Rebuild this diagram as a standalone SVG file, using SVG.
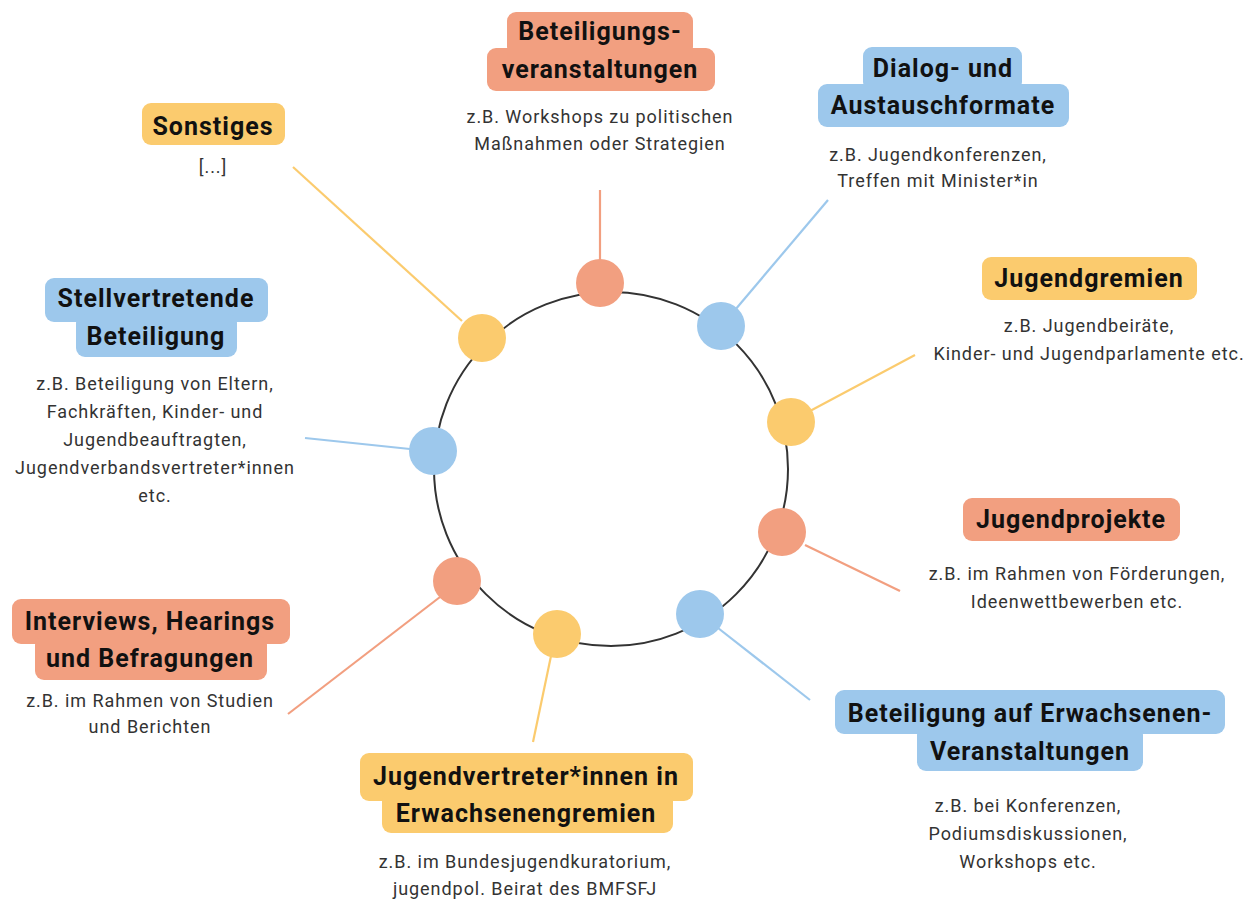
<svg xmlns="http://www.w3.org/2000/svg" width="1256" height="899" viewBox="0 0 1256 899">
<style>
.o{fill:#F29F80}.b{fill:#9DC8EC}.y{fill:#FBCB6E}
.lo{stroke:#F29F80}.lb{stroke:#9DC8EC}.ly{stroke:#FBCB6E}
.c line{stroke-width:2.2}
.t{font-family:Roboto,"Liberation Sans",sans-serif;font-weight:bold;font-size:25px;letter-spacing:1px;fill:#111;text-anchor:middle}
.s{font-family:Roboto,"Liberation Sans",sans-serif;font-size:18px;letter-spacing:0.95px;fill:#333;text-anchor:middle}
</style>
<rect width="1256" height="899" fill="#fff"/>
<circle cx="611" cy="469" r="177" fill="none" stroke="#333" stroke-width="2"/>
<g class="c" id="connectors">
<line class="lo" x1="600" y1="190" x2="600" y2="262"/>
<line class="lb" x1="828" y1="200" x2="735" y2="310"/>
<line class="ly" x1="915" y1="355" x2="810" y2="411"/>
<line class="lo" x1="805" y1="545" x2="900" y2="591"/>
<line class="lb" x1="718" y1="628" x2="810" y2="700"/>
<line class="ly" x1="551" y1="656" x2="533" y2="742"/>
<line class="lo" x1="440" y1="597" x2="288" y2="714"/>
<line class="lb" x1="305" y1="438" x2="410" y2="449"/>
<line class="ly" x1="293" y1="167" x2="462" y2="321"/>
</g>
<g id="dots">
<circle class="o" cx="600" cy="283" r="24"/>
<circle class="b" cx="721" cy="326" r="24"/>
<circle class="y" cx="791" cy="422" r="24"/>
<circle class="o" cx="782" cy="532" r="24"/>
<circle class="b" cx="700" cy="614" r="24"/>
<circle class="y" cx="557" cy="634" r="24"/>
<circle class="o" cx="457" cy="581" r="24"/>
<circle class="b" cx="433" cy="451" r="24"/>
<circle class="y" cx="482" cy="338" r="24"/>
</g>
<g id="n1">
<rect class="o" x="507" y="12" width="186" height="44" rx="9"/>
<rect class="o" x="487" y="48" width="228" height="43" rx="9"/>
<text class="t" x="600" y="40">Beteiligungs-</text>
<text class="t" x="600" y="78">veranstaltungen</text>
<text class="s" x="600" y="123">z.B. Workshops zu politischen</text>
<text class="s" x="600" y="150">Maßnahmen oder Strategien</text>
</g>
<g id="n2">
<rect class="b" x="863" y="47" width="159" height="44" rx="9"/>
<rect class="b" x="818" y="84" width="251" height="43" rx="9"/>
<text class="t" x="943" y="77">Dialog- und</text>
<text class="t" x="943" y="114">Austauschformate</text>
<text class="s" x="938" y="161">z.B. Jugendkonferenzen,</text>
<text class="s" x="938" y="187">Treffen mit Minister*in</text>
</g>
<g id="n3">
<rect class="y" x="982" y="257" width="215" height="43" rx="9"/>
<text class="t" x="1089" y="287">Jugendgremien</text>
<text class="s" x="1089" y="332">z.B. Jugendbeiräte,</text>
<text class="s" x="1089" y="360">Kinder- und Jugendparlamente etc.</text>
</g>
<g id="n4">
<rect class="o" x="963" y="498" width="217" height="43" rx="9"/>
<text class="t" x="1071" y="528">Jugendprojekte</text>
<text class="s" x="1077" y="580">z.B. im Rahmen von Förderungen,</text>
<text class="s" x="1077" y="608">Ideenwettbewerben etc.</text>
</g>
<g id="n5">
<rect class="b" x="835" y="690" width="390" height="44" rx="9"/>
<rect class="b" x="917" y="726" width="226" height="45" rx="9"/>
<text class="t" x="1030" y="722">Beteiligung auf Erwachsenen-</text>
<text class="t" x="1030" y="760">Veranstaltungen</text>
<text class="s" x="1028" y="812">z.B. bei Konferenzen,</text>
<text class="s" x="1028" y="840">Podiumsdiskussionen,</text>
<text class="s" x="1028" y="868">Workshops etc.</text>
</g>
<g id="n6">
<rect class="y" x="360" y="753" width="333" height="48" rx="9"/>
<rect class="y" x="382" y="792" width="291" height="41" rx="9"/>
<text class="t" x="526" y="785">Jugendvertreter*innen in</text>
<text class="t" x="526" y="822">Erwachsenengremien</text>
<text class="s" x="525" y="868">z.B. im Bundesjugendkuratorium,</text>
<text class="s" x="525" y="895">jugendpol. Beirat des BMFSFJ</text>
</g>
<g id="n7">
<rect class="o" x="12" y="599" width="278" height="45" rx="9"/>
<rect class="o" x="35" y="636" width="232" height="44" rx="9"/>
<text class="t" x="150" y="630">Interviews, Hearings</text>
<text class="t" x="150" y="667">und Befragungen</text>
<text class="s" x="150" y="707">z.B. im Rahmen von Studien</text>
<text class="s" x="150" y="733">und Berichten</text>
</g>
<g id="n8">
<rect class="b" x="45" y="278" width="223" height="44" rx="9"/>
<rect class="b" x="76" y="314" width="161" height="43" rx="9"/>
<text class="t" x="156" y="307">Stellvertretende</text>
<text class="t" x="156" y="345">Beteiligung</text>
<text class="s" x="155" y="390">z.B. Beteiligung von Eltern,</text>
<text class="s" x="155" y="418">Fachkräften, Kinder- und</text>
<text class="s" x="155" y="446">Jugendbeauftragten,</text>
<text class="s" x="155" y="474">Jugendverbandsvertreter*innen</text>
<text class="s" x="155" y="502">etc.</text>
</g>
<g id="n9">
<rect class="y" x="142" y="103" width="143" height="42" rx="9"/>
<text class="t" x="213" y="135">Sonstiges</text>
<text class="s" x="213" y="173">[...]</text>
</g>
</svg>
